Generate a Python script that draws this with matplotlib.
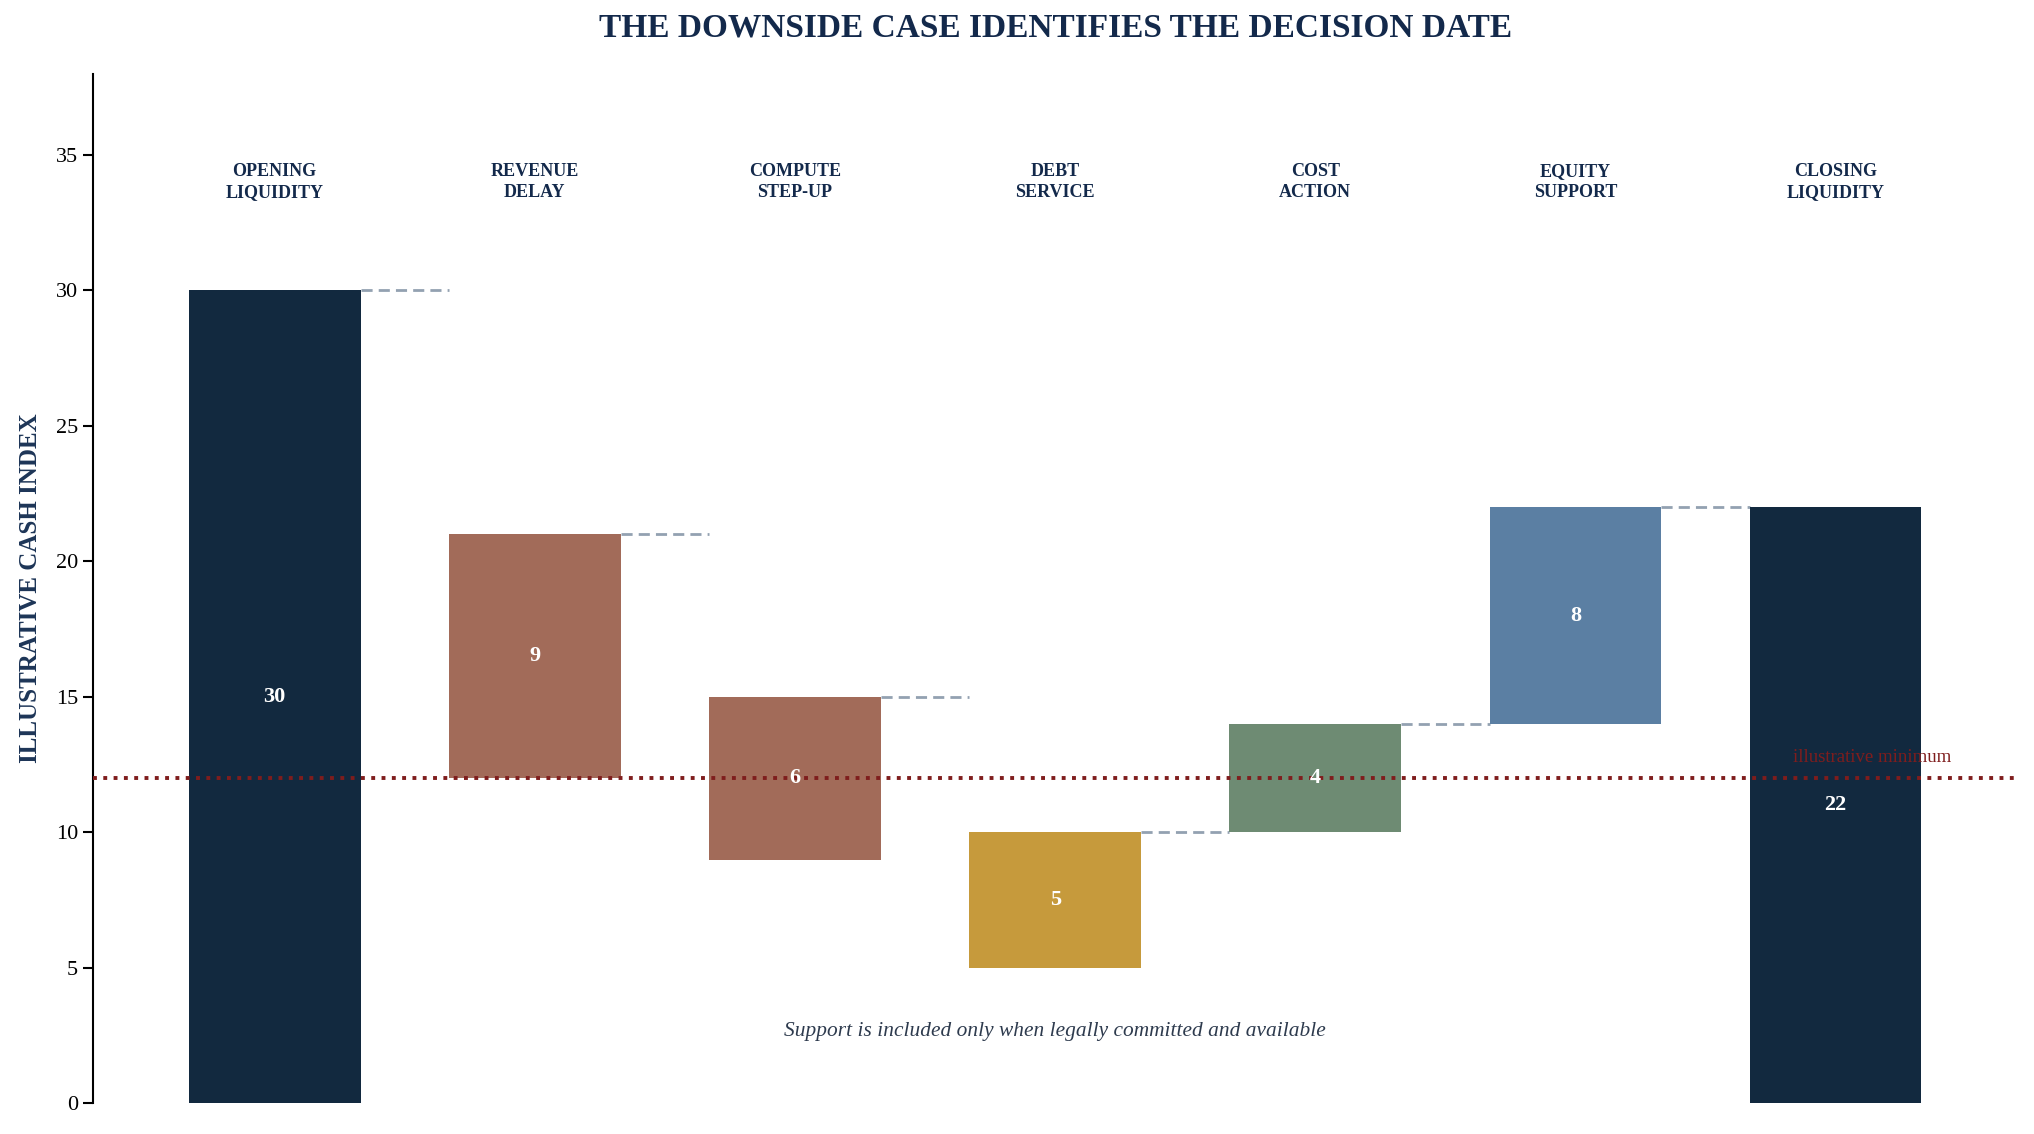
import matplotlib
matplotlib.use("Agg")
import matplotlib.pyplot as plt

plt.rcParams['font.family'] = ['Liberation Serif', 'DejaVu Serif']

# data
categories = ["OPENING\nLIQUIDITY", "REVENUE\nDELAY", "COMPUTE\nSTEP-UP", "DEBT\nSERVICE",
              "COST\nACTION", "EQUITY\nSUPPORT", "CLOSING\nLIQUIDITY"]
steps = [30, -9, -6, -5, 4, 8]
closing = 22
minimum = 12
colors = ["#12293F", "#A26B59", "#A26B59", "#C69A3C", "#6E8B73", "#5B7FA3", "#12293F"]

navy = "#13294B"
red = "#7F1D1D"
grey = "#93A1B1"

fig = plt.figure(figsize=(20.34, 11.34), dpi=100)
ax = fig.add_axes([0.0455, 0.027, 0.9465, 0.908])

# build bars (negative steps drawn below the running level)
bottoms, heights, levels = [], [], []
run = 0
for i, v in enumerate(steps):
    if i == 0:
        bottoms.append(0)
        heights.append(v)
        run = v
    elif v < 0:
        run = run + v
        bottoms.append(run + v)
        heights.append(-v)
    else:
        bottoms.append(run)
        heights.append(v)
        run = run + v
    levels.append(run)
bottoms.append(0)
heights.append(closing)

x = list(range(len(categories)))
w = 0.66
ax.bar(x, heights, bottom=bottoms, width=w, color=colors, zorder=2)

# connectors
for i, lv in enumerate(levels):
    ax.plot([i + w / 2, i + 1 - w / 2], [lv, lv], color=grey, lw=2, ls=(0, (4, 2.2)), zorder=1)

# value labels
for i in x:
    ax.text(i, bottoms[i] + heights[i] / 2, str(heights[i]), ha='center', va='center',
            color='white', fontsize=16, fontweight='bold', zorder=4)

# category labels on top
for i, c in enumerate(categories):
    ax.text(i, 34.0, c, ha='center', va='center', color=navy, fontsize=13,
            fontweight='bold', linespacing=1.3)

# minimum line
ax.axhline(minimum, color=red, lw=2.8, ls=':', zorder=3)
ax.text(6.14, 12.45, "illustrative minimum", ha='center', va='bottom', color=red,
        fontsize=13.5, zorder=4)

ax.text(3, 2.64, "Support is included only when legally committed and available",
        ha='center', va='center', style='italic', color="#2E3B4E", fontsize=15.4)

ax.set_xlim(-0.7, 6.7)
ax.set_ylim(0, 38)
ax.set_yticks(range(0, 36, 5))
ax.set_xticks([])
ax.tick_params(axis='y', labelsize=16, length=7, width=1.5)
for s in ['top', 'right', 'bottom']:
    ax.spines[s].set_visible(False)
ax.spines['left'].set_linewidth(1.5)
ax.set_ylabel("ILLUSTRATIVE CASH INDEX", fontsize=18, fontweight='bold', color="#1D3557", labelpad=10)
ax.set_title("THE DOWNSIDE CASE IDENTIFIES THE DECISION DATE", fontsize=24, fontweight='bold',
             color=navy, pad=27)

fig.savefig("out.png", dpi=100)
